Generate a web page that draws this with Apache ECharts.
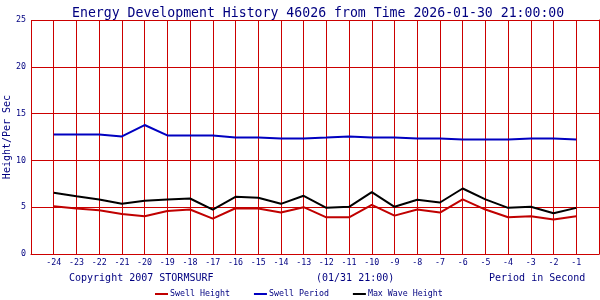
<!DOCTYPE html>
<html>
<head>
<meta charset="utf-8">
<script src="https://cdn.jsdelivr.net/npm/echarts@6/dist/echarts.min.js"></script>
<style>html,body{margin:0;padding:0;background:#fff}#c{width:600px;height:300px}</style>
</head>
<body>
<div id="c"></div>
<script>
var hours = [-24,-23,-22,-21,-20,-19,-18,-17,-16,-15,-14,-13,-12,-11,-10,-9,-8,-7,-6,-5,-4,-3,-2,-1];
var swellHeight = [5.1,4.86,4.68,4.28,4.03,4.6,4.75,3.78,4.89,4.86,4.43,5.0,3.92,3.92,5.25,4.1,4.75,4.43,5.83,4.75,3.92,4.03,3.68,4.03];
var swellPeriod = [12.77,12.77,12.77,12.56,13.78,12.67,12.67,12.67,12.45,12.45,12.35,12.35,12.45,12.56,12.45,12.45,12.35,12.35,12.24,12.24,12.24,12.35,12.35,12.24];
var maxWave = [6.54,6.18,5.83,5.36,5.68,5.83,5.93,4.75,6.11,6.0,5.36,6.22,4.93,5.04,6.61,5.04,5.79,5.5,7.0,5.83,4.93,5.04,4.35,4.93];
var yTicks = [0,5,10,15,20,25];

var NAVY = '#000080', GRID = '#cc0000';
var MONO = '"DejaVu Sans Mono", "Liberation Mono", monospace';
function pairs(v){ return hours.map(function(h,i){ return [h, v[i]]; }); }

var chart = echarts.init(document.getElementById('c'), null, {renderer:'canvas'});
chart.setOption({
  backgroundColor: '#ffffff',
  animation: false,
  title: {
    text: 'Energy Development History 46026 from Time 2026-01-30 21:00:00',
    left: 67, top: 1,
    textStyle: {fontFamily: MONO, fontSize: 13.2, fontWeight: 'normal', color: NAVY, lineHeight: 16}
  },
  grid: {left: 31, right: 1, top: 20, bottom: 46, containLabel: false, outerBoundsMode: 'none'},
  xAxis: {
    type: 'value', min: -25, max: 0, interval: 1,
    axisLine: {show: true, lineStyle: {color: GRID, width: 1}},
    axisTick: {show: false},
    splitLine: {show: true, lineStyle: {color: GRID, width: 1}},
    axisLabel: {
      color: NAVY, fontFamily: MONO, fontSize: 8.3, margin: 5,
      formatter: function(v){ return (hours.indexOf(v) >= 0) ? String(v) : ''; }
    }
  },
  yAxis: {
    type: 'value', min: 0, max: 25, interval: 5,
    name: 'Height/Per Sec', nameLocation: 'middle', nameGap: 19, nameMoveOverlap: false,
    nameTextStyle: {color: NAVY, fontFamily: MONO, fontSize: 10},
    axisLine: {show: true, lineStyle: {color: GRID, width: 1}},
    axisTick: {show: false},
    splitLine: {show: true, lineStyle: {color: GRID, width: 1}},
    axisLabel: {
      color: NAVY, fontFamily: MONO, fontSize: 8.3, margin: 5,
      formatter: function(v){ return (yTicks.indexOf(v) >= 0) ? String(v) : ''; }
    }
  },
  legend: {
    left: 155, top: 290, itemWidth: 13, itemHeight: 2, itemGap: 24, icon: 'rect', padding: 0,
    textStyle: {color: NAVY, fontFamily: MONO, fontSize: 8.3, padding: [0,0,0,-3]},
    data: ['Swell Height', 'Swell Period', 'Max Wave Height']
  },
  graphic: [
    {type:'text', left: 69, top: 273, style:{text:'Copyright 2007 STORMSURF', fill: NAVY, font: '10px ' + MONO}},
    {type:'text', left: 316, top: 273, style:{text:'(01/31 21:00)', fill: NAVY, font: '10px ' + MONO}},
    {type:'text', left: 489, top: 273, style:{text:'Period in Second', fill: NAVY, font: '10px ' + MONO}}
  ],
  series: [
    {name:'Swell Height', type:'line', data: pairs(swellHeight), symbol:'none', color:'#c00000', lineStyle:{width:2, color:'#c00000'}},
    {name:'Swell Period', type:'line', data: pairs(swellPeriod), symbol:'none', color:'#0000c0', lineStyle:{width:2, color:'#0000c0'}},
    {name:'Max Wave Height', type:'line', data: pairs(maxWave), symbol:'none', color:'#000000', lineStyle:{width:2, color:'#000000'}}
  ]
});
</script>
</body>
</html>
